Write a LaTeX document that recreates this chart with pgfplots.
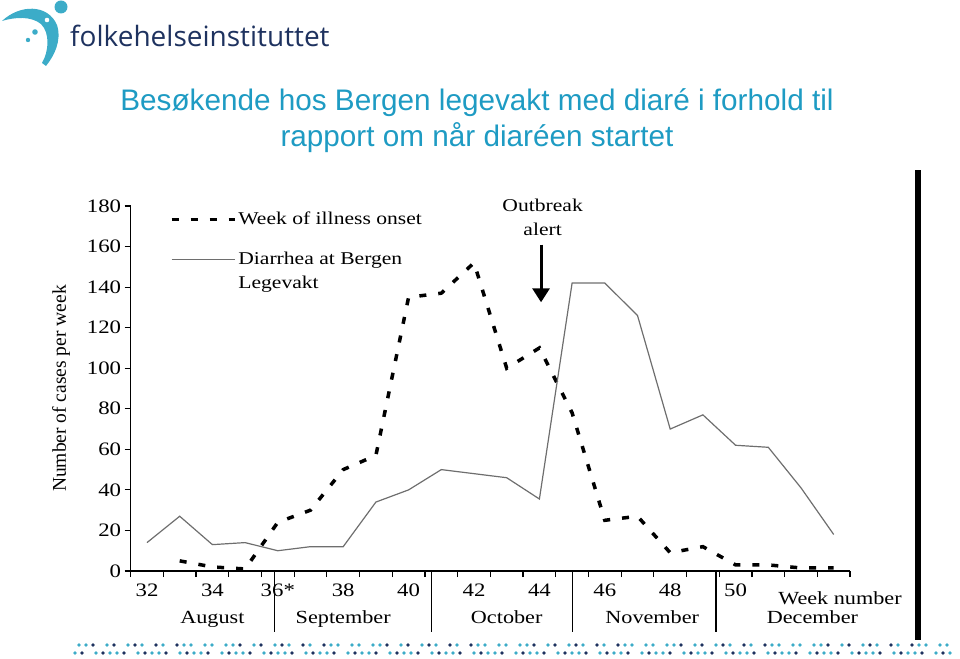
\documentclass[border=0pt]{standalone}
\usepackage{fontspec}
\setmainfont{Liberation Serif}
\newfontfamily\chartfont{Liberation Serif}[FakeStretch=1.2]
\newfontfamily\plainserif{Liberation Serif}
\newfontfamily\titlefont{Liberation Sans}
\newfontfamily\logofont{Open Sans}
\usepackage{pgfplots}
\usepackage{pgfplotstable}
\pgfplotsset{compat=1.18}
\usetikzlibrary{arrows.meta}
\definecolor{titleblue}{RGB}{30,155,195}
\definecolor{logonavy}{RGB}{30,50,95}
\definecolor{logoteal}{RGB}{60,172,200}
\definecolor{solidgray}{RGB}{110,110,110}
\pgfplotsset{
  plainlegend/.style={legend image code/.code={\draw[##1] (0pt,0pt) -- (63pt,0pt);}},
  raisedlegend/.style={legend image code/.code={\draw[##1] (0pt,12pt) -- (63pt,12pt);}},
}

\pgfplotstableread{
week cases
32 14
33 27
34 13
35 14
36 10
37 12
38 12
39 34
40 40
41 50
42 48
43 46
44 35.5
45 142
46 142
47 126
48 70
49 77
50 62
51 61
52 41
53 18
}\legevakt

\pgfplotstableread{
week cases
33 5
34 2
35 1
36 24
37 30
38 50
39 57
40 135
41 137
42 152
43 100
44 110
45 78
46 25
47 27
48 9
49 12
50 3
51 3
52 1.5
53 1.5
}\onset

\begin{document}
\begin{tikzpicture}[x=1pt,y=1pt]
\path[use as bounding box] (0,0) rectangle (960,658);
% logo
\fill[logoteal] (2,637) .. controls (20,654) and (48,654) .. (57,633)
  .. controls (62,617) and (54,602) .. (46,592) -- (42,595)
  .. controls (49,607) and (50,625) .. (41,634)
  .. controls (31,642) and (15,641) .. (2,637) -- cycle;
\fill[logoteal] (61,651) circle (6.5);
\fill[logoteal] (47,638) circle (5);
\fill[white] (47,638) circle (2.3);
\fill[logoteal] (35,626) circle (2.8);
\fill[logoteal] (28,618) circle (2.2);
\node[anchor=west, inner sep=0pt, text=logonavy, font=\logofont\fontsize{28}{32}\selectfont] at (70,622) {folkehelseinstituttet};
% title
\node[align=center, text=titleblue, font=\titlefont\fontsize{29.7}{36}\selectfont] at (477,537) {Besøkende hos Bergen legevakt med diaré i forhold til\\rapport om når diaréen startet};
% right bar
\fill[black] (915,18) rectangle (921,488);
% bottom dots
\foreach \i in {0,...,125} {
  \pgfmathtruncatemacro\a{mod(\i*\i+3*\i,7)}
  \pgfmathtruncatemacro\b{mod(\i,3)}
  \pgfmathtruncatemacro\c{mod(\i*5+2,6)}
  \ifnum\a>0
    \ifnum\b=0 \fill[logonavy] (72+\i*7,13) circle (1.8); \else \fill[logoteal] (72+\i*7,13) circle (1.8); \fi
  \fi
  \ifnum\c>0
    \ifnum\b=1 \fill[logonavy] (75+\i*7,5) circle (1.8); \else \fill[logoteal] (75+\i*7,5) circle (1.8); \fi
  \fi
}
\begin{axis}[
  at={(130.65pt,87pt)}, anchor=south west, scale only axis,
  width=719.4pt, height=365pt,
  xmin=31.5, xmax=53.5, ymin=0, ymax=180,
  axis lines=left,
  axis line style={-, line width=1.2pt},
  xtick={31.5,32.5,33.5,34.5,35.5,36.5,37.5,38.5,39.5,40.5,41.5,42.5,43.5,44.5,45.5,46.5,47.5,48.5,49.5,50.5,51.5,52.5,53.5},
  xticklabels={},
  extra x ticks={32,34,36,38,40,42,44,46,48,50},
  extra x tick labels={32,34,36*,38,40,42,44,46,48,50},
  extra x tick style={major tick length=0pt, xticklabel style={yshift=-9pt}},
  ytick={0,20,...,180},
  tick align=outside, major tick length=6pt,
  tick style={line width=1.2pt, black},
  /pgf/number format/assume math mode=true,
  ticklabel style={font=\chartfont\fontsize{19}{22}\selectfont},
  clip=false,
  ylabel={\plainserif\fontsize{19.5}{22}\selectfont Number of cases per week},
  ylabel style={yshift=10pt},
  legend style={at={(axis cs:32.6,179)}, anchor=north west, draw=none, fill=none,
    font=\chartfont\fontsize{18}{24}\selectfont, row sep=22pt,
    cells={align=left}},
  legend cell align=left,
]
\addplot[black, line width=3.5pt, dash pattern=on 7pt off 12pt, plainlegend] table[x=week, y=cases] {\onset};
\addlegendentry{Week of illness onset}
\addplot[solidgray, line width=1.2pt, raisedlegend] table[x=week, y=cases] {\legevakt};
\addlegendentry{Diarrhea at Bergen\\Legevakt}
% month separators
\draw[line width=1.2pt] (axis cs:35.9,0) -- (axis cs:35.9,-30);
\draw[line width=1.2pt] (axis cs:40.7,0) -- (axis cs:40.7,-30);
\draw[line width=1.2pt] (axis cs:45.0,0) -- (axis cs:45.0,-30);
\draw[line width=1.2pt] (axis cs:49.4,0) -- (axis cs:49.4,-30);
\node[anchor=base, font=\chartfont\fontsize{18.5}{20}\selectfont] at (axis cs:34,-26.1) {August};
\node[anchor=base, font=\chartfont\fontsize{18.5}{20}\selectfont] at (axis cs:38,-26.1) {September};
\node[anchor=base, font=\chartfont\fontsize{18.5}{20}\selectfont] at (axis cs:43,-26.1) {October};
\node[anchor=base, font=\chartfont\fontsize{18.5}{20}\selectfont] at (axis cs:47.45,-26.1) {November};
\node[anchor=base, font=\chartfont\fontsize{18.5}{20}\selectfont] at (axis cs:52.35,-26.1) {December};
\node[anchor=west, inner sep=0pt, font=\chartfont\fontsize{18.5}{20}\selectfont] at (axis cs:51.3,-13.3) {Week number};
% outbreak alert
\node[align=center, font=\chartfont\fontsize{18}{24}\selectfont] at (axis cs:44.1,174.5) {Outbreak\\alert};
\draw[-{Triangle[width=17pt,length=14pt]}, line width=3pt] (axis cs:44.05,161) -- (axis cs:44.05,132.5);
\end{axis}
\end{tikzpicture}
\end{document}
